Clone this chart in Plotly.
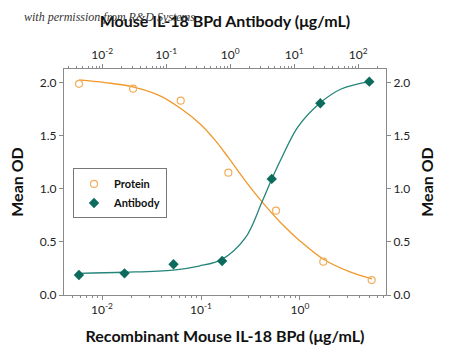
import plotly.graph_objects as go

# Protein (bottom axis, ug/mL)
protein_x = [0.00586, 0.0206, 0.0624, 0.189, 0.573, 1.72, 5.3]
protein_y = [1.988, 1.943, 1.830, 1.152, 0.794, 0.314, 0.141]
# Antibody (top axis, ug/mL)
antibody_x = [0.00433, 0.0223, 0.130, 0.747, 4.45, 25.6, 149]
antibody_y = [0.188, 0.204, 0.289, 0.320, 1.093, 1.806, 2.009]

# fitted curves
protein_fit_x = [0.00586, 0.0107, 0.0206, 0.0386, 0.0614, 0.098, 0.138, 0.187,
                 0.278, 0.423, 0.628, 1.0, 1.71, 3.2, 5.33]
protein_fit_y = [2.025, 2.00, 1.96, 1.875, 1.76, 1.61, 1.46, 1.30,
                 1.08, 0.867, 0.688, 0.509, 0.339, 0.217, 0.151]
antibody_fit_x = [0.00433, 0.0223, 0.1285, 0.325, 0.747, 1.72, 3.11, 4.45,
                  6.35, 11.5, 25.6, 54.1, 149]
antibody_fit_y = [0.204, 0.214, 0.235, 0.273, 0.336, 0.537, 0.87, 1.09,
                  1.29, 1.585, 1.81, 1.94, 2.01]

y_ticks = [0.0, 0.5, 1.0, 1.5, 2.0]
bottom_ticks = [0.01, 0.1, 1]
bottom_text = ["10<sup>-2</sup>", "10<sup>-1</sup>", "10<sup>0</sup>"]
top_ticks = [0.01, 0.1, 1, 10, 100]
top_text = ["10<sup>-2</sup>", "10<sup>-1</sup>", "10<sup>0</sup>", "10<sup>1</sup>", "10<sup>2</sup>"]
minor_mult = [2, 3, 4, 5, 6, 7, 8, 9]
bottom_decades = [0.001, 0.01, 0.1, 1]
top_decades = [0.001, 0.01, 0.1, 1, 10, 100]

bottom_minor = [d * m for d in bottom_decades for m in minor_mult]
top_minor = [d * m for d in top_decades for m in minor_mult]

ORANGE_LINE = "#F0982A"
ORANGE_MK = "#F2AE5C"
TEAL_LINE = "#23847A"
TEAL_MK = "#0C6B5C"
GRAY = "#8a8a8a"
FONT = "Lato"

fig = go.Figure()
fig.add_trace(go.Scatter(x=protein_fit_x, y=protein_fit_y, mode="lines",
                         line=dict(color=ORANGE_LINE, width=1.3, shape="spline"),
                         showlegend=False, hoverinfo="skip"))
fig.add_trace(go.Scatter(x=antibody_fit_x, y=antibody_fit_y, mode="lines",
                         line=dict(color=TEAL_LINE, width=1.3, shape="spline"),
                         xaxis="x2", yaxis="y2", showlegend=False, hoverinfo="skip"))
fig.add_trace(go.Scatter(x=protein_x, y=protein_y, mode="markers", name="Protein",
                         marker=dict(symbol="circle-open", size=7, color=ORANGE_MK,
                                     line=dict(width=1.2, color=ORANGE_MK))))
fig.add_trace(go.Scatter(x=antibody_x, y=antibody_y, mode="markers", name="Antibody",
                         xaxis="x2", yaxis="y2",
                         marker=dict(symbol="diamond", size=8, color=TEAL_MK)))

common_x = dict(type="log", showgrid=False, zeroline=False, showline=True,
                linecolor=GRAY, linewidth=1, ticks="outside", ticklen=4,
                tickcolor=GRAY, tickfont=dict(family=FONT, size=12, color="#222"))
common_y = dict(range=[0, 2.128], tickvals=y_ticks, tickformat=".1f",
                showgrid=False, zeroline=False, showline=True, linecolor=GRAY,
                linewidth=1, ticks="outside", ticklen=4, tickcolor=GRAY,
                tickfont=dict(family=FONT, size=12, color="#222"))

fig.update_layout(
    width=450, height=363,
    margin=dict(l=64, r=64, t=69, b=68),
    paper_bgcolor="white", plot_bgcolor="white",
    xaxis=dict(common_x, range=[-2.384, 0.869], tickvals=bottom_ticks, ticktext=bottom_text,
               minor=dict(tickvals=bottom_minor, ticks="outside", ticklen=2,
                          tickcolor=GRAY, showgrid=False),
               title=dict(text="<b>Recombinant Mouse IL-18 BPd (μg/mL)</b>",
                          font=dict(family=FONT, size=16, color="#111"), standoff=14)),
    xaxis2=dict(common_x, range=[-2.597, 2.434], tickvals=top_ticks, ticktext=top_text,
                overlaying="x", side="top", anchor="y",
                minor=dict(tickvals=top_minor, ticks="outside", ticklen=2,
                           tickcolor=GRAY, showgrid=False),
                title=dict(text="<b>Mouse IL-18 BPd Antibody (μg/mL)</b>",
                           font=dict(family=FONT, size=16, color="#111"), standoff=14)),
    yaxis=dict(common_y, title=dict(text="<b>Mean OD</b>",
                                    font=dict(family=FONT, size=16, color="#111"), standoff=12)),
    yaxis2=dict(common_y, overlaying="y", side="right", anchor="x",
                title=dict(text="<b>Mean OD</b>",
                           font=dict(family=FONT, size=16, color="#111"), standoff=12)),
    legend=dict(x=0.028, y=0.56, xanchor="left", yanchor="top",
                bgcolor="white", bordercolor="#777", borderwidth=1,
                font=dict(family=FONT, size=11, color="#111", weight="bold"),
                itemwidth=30, tracegroupgap=0),
    showlegend=True,
)

fig.add_annotation(text="with permission from R&D Systems", xref="paper", yref="paper",
                   x=-0.13, y=1.228, xanchor="left", yanchor="middle", showarrow=False,
                   font=dict(family="Liberation Serif", size=12, color="#333", style="italic"))

fig.write_html("out.html", config={"displayModeBar": False},
               post_script="document.body.style.margin='0';")
